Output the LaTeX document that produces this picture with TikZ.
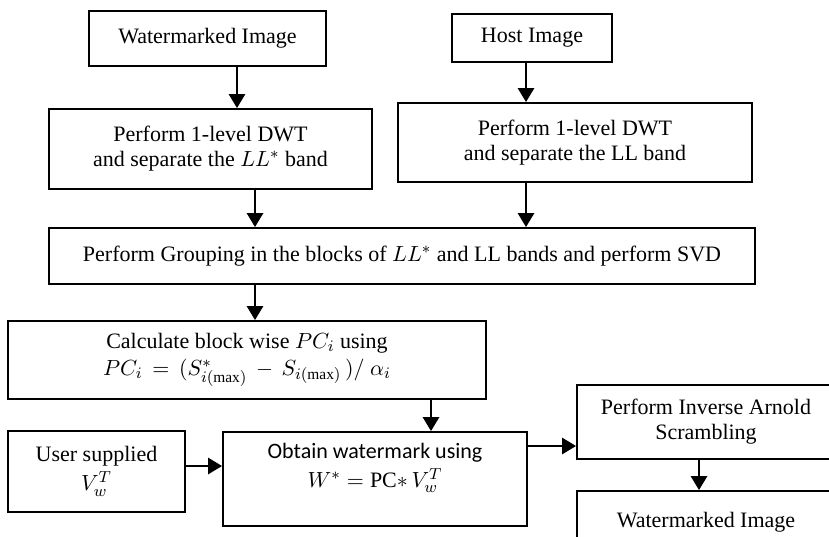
\documentclass[tikz,border=0pt]{standalone}
\usepackage{fontspec}
\setmainfont{Liberation Serif}
\newfontfamily\calibrilike{Carlito}
\usetikzlibrary{arrows.meta}

\tikzset{
  stagebox/.style={draw=black, line width=0.9pt, rectangle, align=center,
    inner sep=2pt, font=\fontsize{11}{12.5}\selectfont},
  flow/.style={line width=1.4pt, -{Triangle[length=7pt,width=8pt]}},
}

\begin{document}
\begin{tikzpicture}[x=0.5pt, y=-0.5pt]
  \clip (0,0) rectangle (829,536);
  \fill[white] (0,0) rectangle (829,536);

  % left branch: marked image
  \node[stagebox, minimum width=118.5pt, minimum height=27.5pt] (wm1) at (207.5,38.5)
    {Watermarked Image};
  \node[stagebox, minimum width=161.5pt, minimum height=40pt] (dwt1) at (210.5,149)
    {Perform 1-level DWT\\ and separate the $LL^{*}$\ band};

  % right branch: host image
  \node[stagebox, minimum width=80pt, minimum height=24pt] (host) at (532,38)
    {Host Image};
  \node[stagebox, minimum width=177pt, minimum height=39.5pt] (dwt2) at (575,142.5)
    {Perform 1-level DWT\\ and separate the LL band};

  % merged processing
  \node[stagebox, minimum width=353pt, minimum height=28pt] (group) at (402,256)
    {Perform Grouping in the blocks of $LL^{*}$ and LL bands and perform SVD};
  \node[stagebox, minimum width=239pt, minimum height=39pt] (calc) at (247,360)
    {Calculate block wise $PC_i$ using\\[1pt]
     $PC_i\, =\, (S^{*}_{i(\mathrm{max})}\, -\, S_{i(\mathrm{max})}\,)/\ \alpha_i$};

  \node[stagebox, minimum width=88.5pt, minimum height=40.5pt] (user) at (96.5,471.5)
    {User supplied\\[2pt] $V_w^{T}$};
  \node[stagebox, minimum width=152pt, minimum height=47pt] (obtain) at (375,479) {};
  \node[align=center, font=\fontsize{11}{12.5}\selectfont] (obtaintext) at (375,468)
    {{\calibrilike Obtain watermark using}\\[2pt] $W^{*} = \mathrm{PC}{*}\, V_w^{T}$};

  \node[stagebox, minimum width=129pt, minimum height=37pt] (arnold) at (706,422)
    {Perform Inverse Arnold\\ Scrambling};
  \node[stagebox, minimum width=129pt, minimum height=34.5pt] (wm2) at (706,525.5)
    {\raisebox{6pt}{Watermarked Image}};

  % connectors
  \draw[flow] (wm1.south -| 237,0) -- (dwt1.north -| 237,0);
  \draw[flow] (host.south -| 526,0) -- (dwt2.north -| 526,0);
  \draw[flow] (dwt1.south -| 255,0) -- (group.north -| 255,0);
  \draw[flow] (dwt2.south -| 526,0) -- (group.north -| 526,0);
  \draw[flow] (group.south -| 255,0) -- (calc.north -| 255,0);
  \draw[flow] (calc.south -| 431,0) -- (obtain.north -| 431,0);
  \draw[flow] (user.east |- 0,466) -- (obtain.west |- 0,466);
  \draw[flow] (obtain.east |- 0,446) -- (arnold.west |- 0,446);
  \draw[flow] (arnold.south -| 699,0) -- (wm2.north -| 699,0);
\end{tikzpicture}
\end{document}
